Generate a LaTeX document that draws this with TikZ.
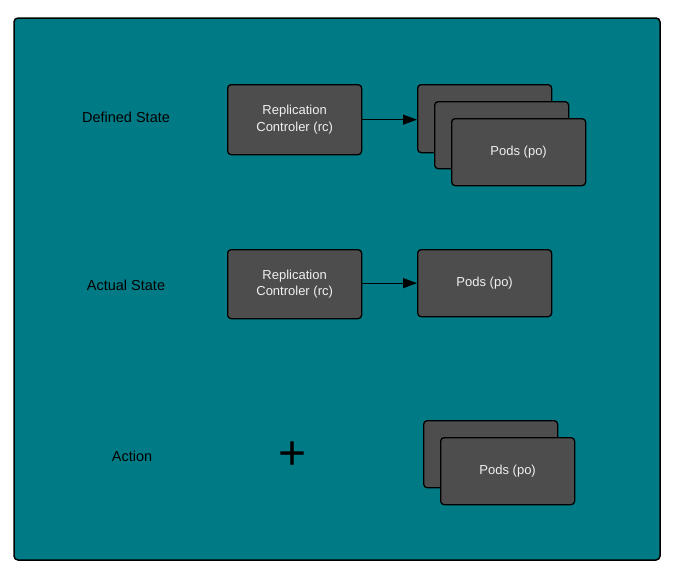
\documentclass[tikz,border=0pt]{standalone}
\usepackage{fontspec}
\setmainfont{Liberation Sans}
\usetikzlibrary{arrows.meta}
\definecolor{teal0}{RGB}{0,123,133}
\definecolor{boxgray}{RGB}{77,77,77}
\definecolor{txtw}{RGB}{240,240,240}
\tikzset{
  box/.style={draw=black, line width=1.3pt, fill=boxgray, rounded corners=3.5pt,
    minimum width=134pt, minimum height=#1, inner sep=0pt, anchor=north west,
    text=txtw, font=\fontsize{13}{16.5}\selectfont, align=center},
  box/.default=69pt,
  lbl/.style={font=\fontsize{14.5}{17}\selectfont, text=black},
  conn/.style={-{Triangle[length=14pt,width=10pt]}, line width=1pt, black}
}
\begin{document}
\begin{tikzpicture}[x=1pt,y=-1pt]
\useasboundingbox (0,0) rectangle (675,576);
\draw[fill=teal0, draw=black, line width=1.5pt, rounded corners=4pt] (14,18) rectangle (660,560);
% labels
\node[lbl] (l1) at (126,117) {Defined State};
\node[lbl] (l2) at (126,285) {Actual State};
\node[lbl] (l3) at (132,456) {Action};
% defined state
\node[box=70pt] (rc1) at (227,84) {Replication\\Controler (rc)};
\node[box=68pt] (p1a) at (417,84) {};
\node[box=67pt] (p1b) at (434,101) {};
\node[box=67pt] (p1c) at (451,118) {Pods (po)};
\draw[conn] (rc1.east) -- (rc1.east -| p1a.west);
% actual state
\node[box=69pt] (rc2) at (227,249) {Replication\\Controler (rc)};
\node[box=67pt] (p2) at (417,249) {Pods (po)};
\draw[conn] (rc2.east |- p2.west) -- (p2.west);
% action
\node[font=\fontsize{48}{48}\selectfont, text=black, inner sep=0pt] (plus) at (293,456) {+};
\node[box=67pt] (p3a) at (423,420) {};
\node[box=67pt] (p3b) at (440,437) {Pods (po)};
\end{tikzpicture}
\end{document}
